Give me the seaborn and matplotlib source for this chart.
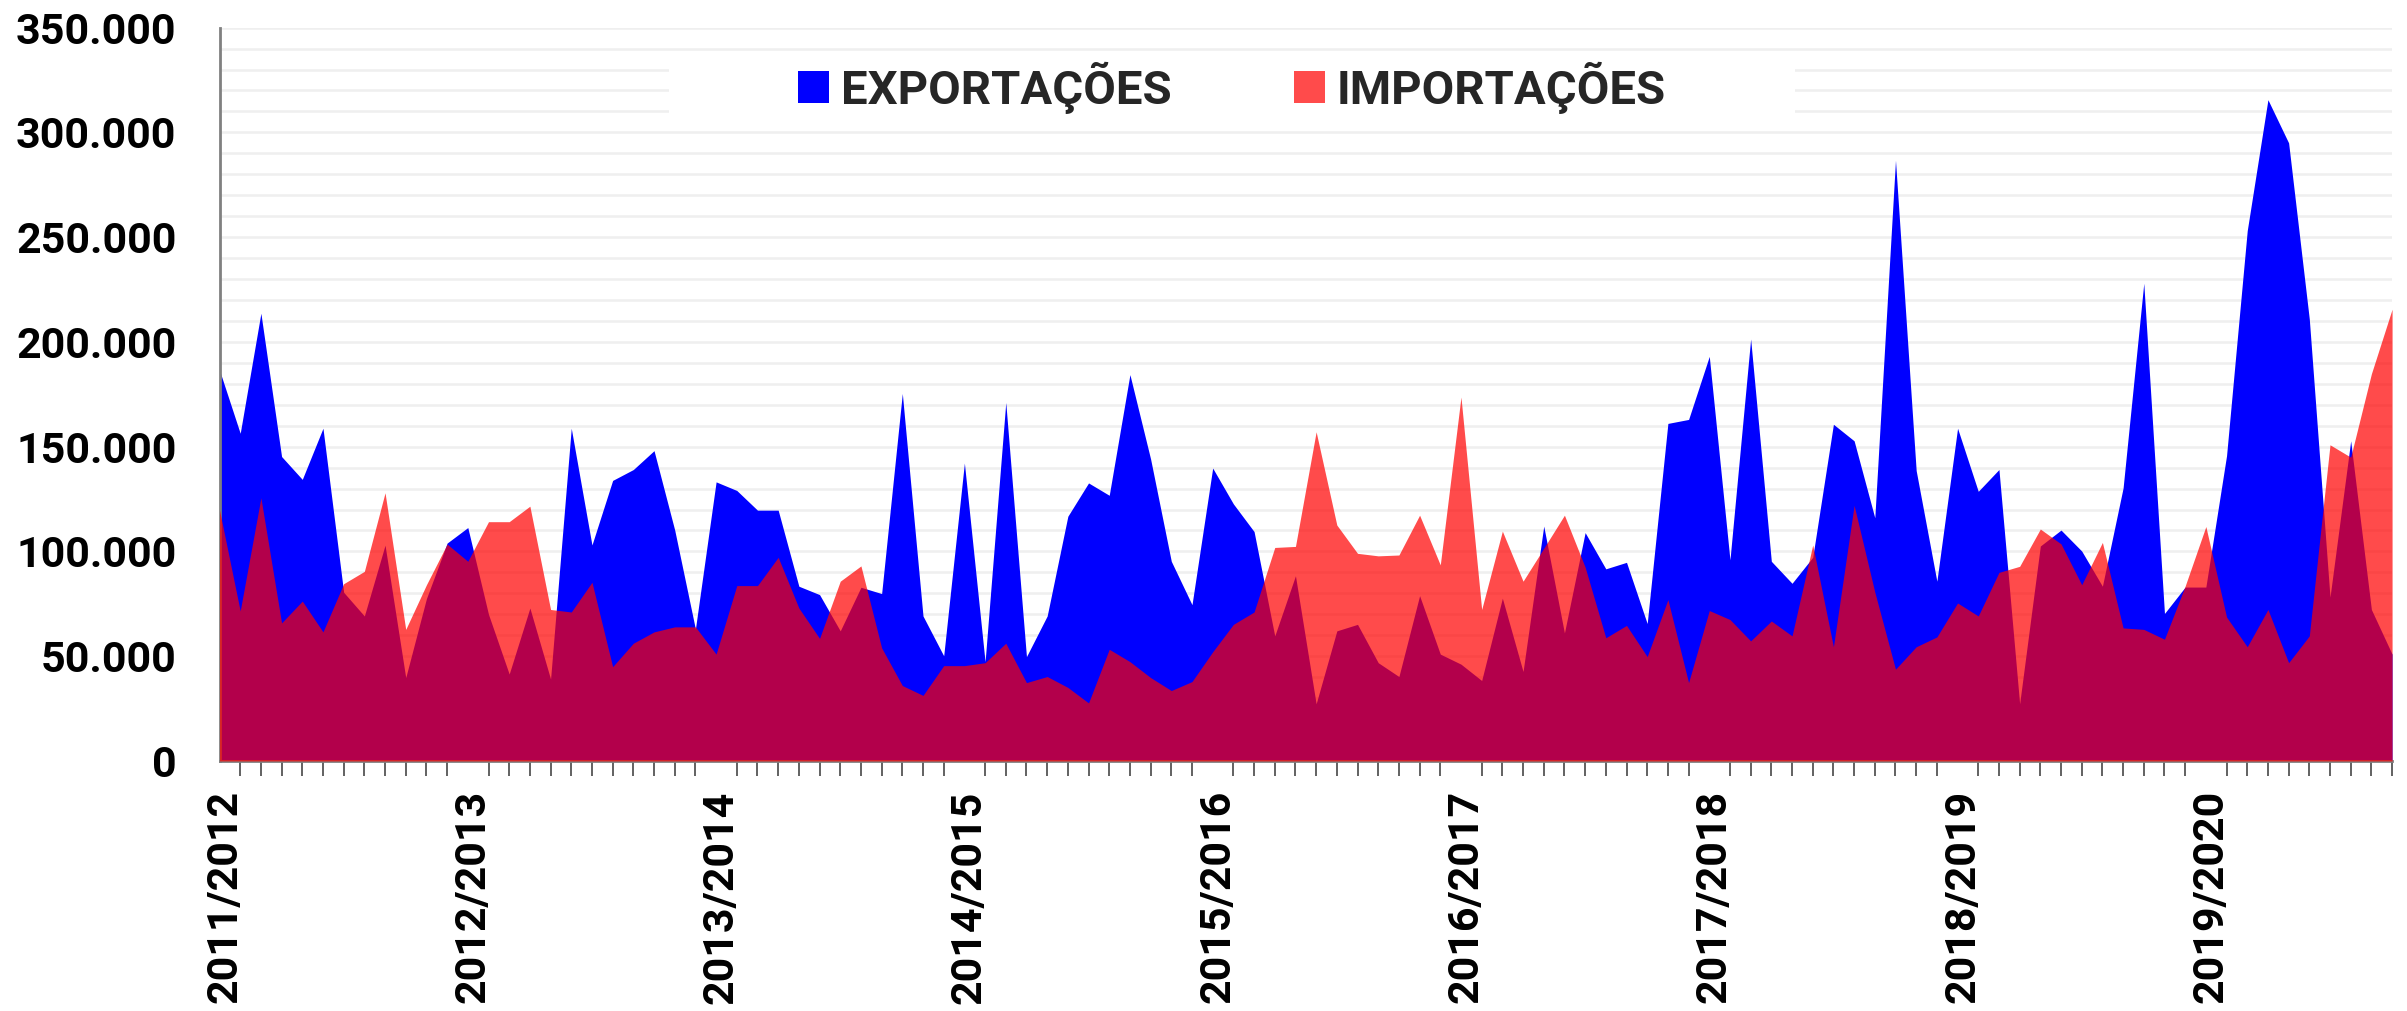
import matplotlib
matplotlib.use("Agg")
import matplotlib.pyplot as plt
import matplotlib.transforms as mtransforms
import numpy as np
import pandas as pd
import seaborn as sns
from matplotlib.patches import Patch, Rectangle
from matplotlib.ticker import FuncFormatter, MultipleLocator

# Safras (uma etiqueta a cada 12 meses)
safras = ["2011/2012", "2012/2013", "2013/2014", "2014/2015", "2015/2016",
          "2016/2017", "2017/2018", "2018/2019", "2019/2020"]

# Valores mensais (mil toneladas)
exportacoes = [
    186.5, 156.4, 213.7, 145.3, 134.4, 158.8, 80.5, 69.2, 103.0, 39.8, 77.5, 104.0,
    111.4, 70.0, 41.5, 73.0, 39.1, 158.8, 103.1, 133.9, 139.1, 148.1, 110.2, 63.0,
    133.2, 129.1, 119.7, 119.7, 83.4, 79.4, 62.1, 82.9, 79.9, 175.4, 69.2, 50.2,
    142.2, 47.4, 171.1, 49.8, 69.2, 116.8, 132.7, 126.8, 184.4, 144.1, 95.3, 74.6,
    139.8, 122.7, 109.5, 59.7, 88.4, 27.3, 62.1, 65.2, 46.9, 40.3, 78.9, 51.0,
    46.2, 38.4, 77.7, 42.7, 112.1, 61.1, 109.0, 91.7, 94.8, 65.6, 161.1, 163.0,
    193.1, 96.0, 201.4, 95.3, 84.8, 97.2, 160.7, 152.8, 116.1, 286.7, 138.6, 85.8,
    158.8, 128.7, 139.1, 27.3, 102.6, 110.2, 100.2, 83.4, 130.3, 228.0, 70.4, 83.0,
    83.0, 145.7, 253.1, 315.6, 295.0, 210.9, 78.2, 152.8, 72.3, 51.0,
]
importacoes = [
    119.7, 71.6, 125.6, 65.9, 76.3, 61.6, 84.6, 90.5, 128.0, 62.8, 84.1, 103.5,
    95.3, 114.2, 114.2, 121.6, 72.3, 71.1, 85.3, 45.0, 56.2, 61.6, 64.0, 64.0,
    51.0, 83.7, 83.7, 97.2, 73.0, 58.5, 85.8, 93.1, 54.0, 36.0, 31.3, 45.5,
    45.5, 46.9, 56.2, 37.4, 40.3, 35.1, 27.7, 53.3, 47.4, 39.8, 33.6, 37.9,
    52.1, 65.2, 71.1, 101.9, 102.4, 157.1, 112.6, 99.1, 97.9, 98.3, 117.3, 93.6,
    173.7, 72.3, 109.7, 85.8, 101.5, 117.3, 92.5, 58.8, 64.7, 49.8, 77.0, 37.4,
    71.8, 67.5, 57.3, 66.8, 59.7, 103.1, 54.5, 122.0, 80.6, 43.8, 54.5, 59.2,
    75.4, 69.2, 90.0, 92.9, 110.7, 103.6, 84.1, 104.3, 63.5, 62.8, 58.1, 83.5,
    111.9, 68.7, 54.5, 72.3, 46.9, 59.7, 150.9, 145.0, 184.8, 215.6,
]

df = pd.DataFrame({
    "mes": np.arange(len(exportacoes)),
    "EXPORTAÇÕES": np.array(exportacoes) * 1000,
    "IMPORTAÇÕES": np.array(importacoes) * 1000,
})

sns.set_theme(style="white")
plt.rcParams["font.family"] = ["Roboto", "DejaVu Sans"]
plt.rcParams["font.weight"] = "bold"

fig = plt.figure(figsize=(24.07, 10.11), dpi=100)
ax = fig.add_axes([0.0912, 0.2473, 0.9026, 0.7254])

cor_exp = "#0000FF"
cor_imp = "#FF0000"
alpha_imp = 0.705

ax.fill_between(df["mes"], 0, df["EXPORTAÇÕES"], color=cor_exp, lw=0, zorder=2)
ax.fill_between(df["mes"], 0, df["IMPORTAÇÕES"], color=cor_imp, alpha=alpha_imp,
                lw=0, zorder=3)

ax.set_xlim(0, len(df) - 1)
ax.set_ylim(0, 350000)

# eixo y
ax.yaxis.set_major_locator(MultipleLocator(50000))
ax.yaxis.set_minor_locator(MultipleLocator(10000))
ax.yaxis.set_major_formatter(FuncFormatter(lambda v, p: f"{int(v):,}".replace(",", ".")))
ax.set_axisbelow(True)
ax.grid(which="both", axis="y", color="#efefef", lw=1.8)
ax.grid(which="both", axis="x", visible=False)

# eixo x
ax.set_xticks(np.arange(0, 12 * len(safras), 12))
ax.set_xticklabels(safras, rotation=90)
ax.xaxis.set_minor_locator(MultipleLocator(1))

ax.tick_params(axis="both", which="major", direction="out", length=11, width=1.3,
               color="#555555", labelsize=31, labelcolor="black")
ax.tick_params(axis="y", which="major", pad=20)
ax.tick_params(axis="x", which="major", pad=10)
ax.tick_params(axis="x", which="minor", direction="out", length=11, width=1.3,
               color="#555555", bottom=True)
ax.tick_params(axis="y", which="minor", length=0)

# centraliza os digitos girados sobre o tick
desloc = mtransforms.ScaledTranslation(5 / 100, 0, fig.dpi_scale_trans)
for lab in ax.get_xticklabels():
    lab.set_fontweight("bold")
    lab.set_transform(lab.get_transform() + desloc)
for lab in ax.get_yticklabels():
    lab.set_fontweight("bold")

sns.despine(ax=ax)
for s in ["left", "bottom"]:
    ax.spines[s].set_color("#808080")
    ax.spines[s].set_linewidth(2)

# caixa branca da legenda
ax.add_patch(Rectangle((0.207, 0.869), 0.518, 0.088, transform=ax.transAxes,
                       facecolor="white", edgecolor="none", zorder=1))

handles = [Patch(facecolor=cor_exp, edgecolor="none", label="EXPORTAÇÕES"),
           Patch(facecolor=cor_imp, alpha=alpha_imp, edgecolor="none", label="IMPORTAÇÕES")]
leg = ax.legend(handles=handles, loc="center", bbox_to_anchor=(0.466, 0.918),
                ncol=2, frameon=False, handlelength=0.65,
                handleheight=0.65, handletextpad=0.25, columnspacing=2.6,
                prop={"weight": "bold", "size": 34})
leg.set_zorder(5)

fig.savefig("out.png", dpi=100)
